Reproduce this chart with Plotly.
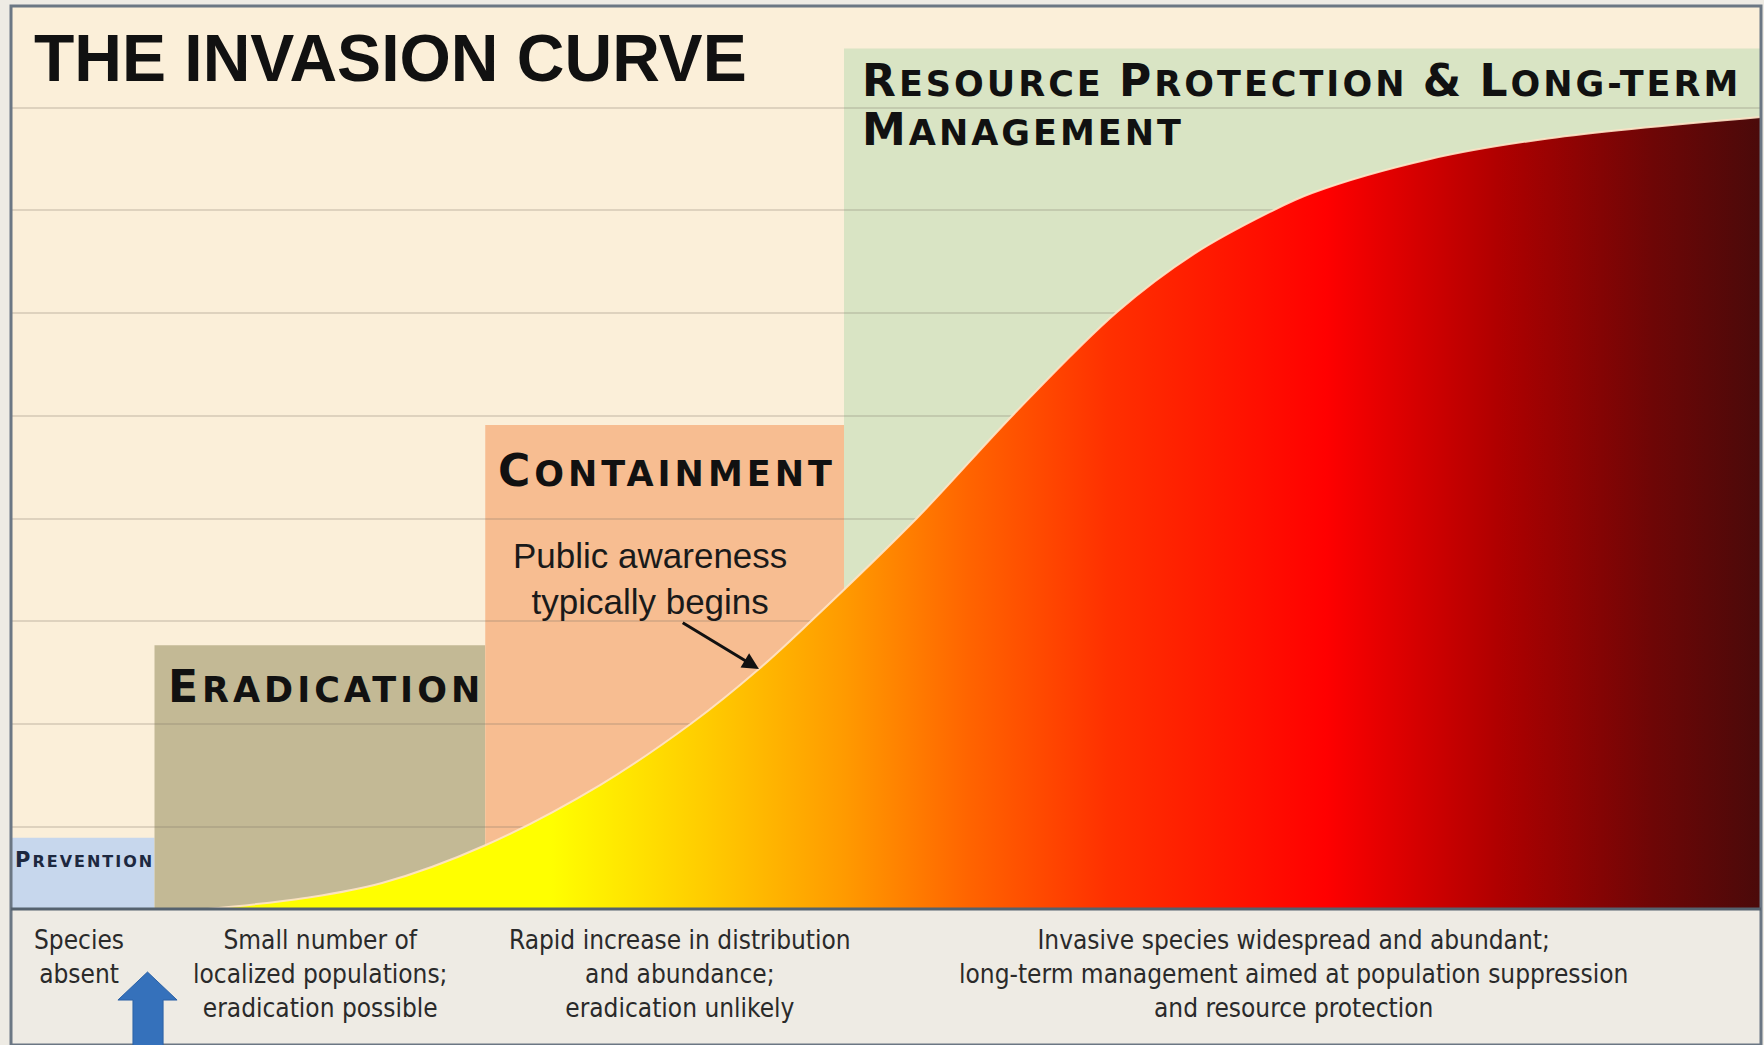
import plotly.graph_objects as go

# ---------------- data ----------------
# invasion curve (time 0-100, extent 0-100)
time_x = [11.26, 16.8, 21.2, 27.14, 33.66, 38.91, 42.74, 45.66, 51.83, 57.31, 63.2, 67.6, 71.83, 74.34, 81.09, 87.83, 100.0]
extent_y = [0.0, 1.22, 2.88, 7.09, 13.73, 20.6, 26.58, 31.78, 43.41, 54.82, 66.11, 72.54, 77.08, 79.29, 83.06, 85.33, 87.71]

# management phases (boxes)
phase_names = ["Prevention", "Eradication", "Containment", "Resource Protection & Long-term Management"]
phase_start = [0.0, 8.2, 27.1, 47.6]
phase_end = [8.2, 27.1, 47.6, 100.0]
phase_height = [7.9, 29.2, 53.6, 95.3]
phase_colors = ["#c7d7ed", "#c3b995", "#f7bd91", "#d9e4c4"]

# stage descriptions (bottom band)
stage_text = [
    "Species<br>absent",
    "Small number of<br>localized populations;<br>eradication possible",
    "Rapid increase in distribution<br>and abundance;<br>eradication unlikely",
    "Invasive species widespread and abundant;<br>long-term management aimed at population suppression<br>and resource protection",
]
stage_center = [3.9, 17.7, 38.2, 73.3]

awareness_index = 6  # curve point where public awareness typically begins

# ---------------- figure ----------------
fig = go.Figure()

grad = [
    [0.0, "#ffff00"], [0.22, "#ffff00"], [0.32, "#ffcc00"], [0.41, "#ff9a00"],
    [0.49, "#ff6400"], [0.58, "#ff3000"], [0.72, "#ff0000"], [0.83, "#b00000"],
    [0.93, "#6e0606"], [1.0, "#4a0a0a"],
]
fig.add_trace(go.Scatter(
    x=time_x, y=extent_y, mode="lines",
    line=dict(shape="spline", smoothing=1.0, color="rgba(255,228,200,0.9)", width=2),
    fill="tozeroy",
    fillgradient=dict(type="horizontal", colorscale=grad, start=time_x[0], stop=time_x[-1]),
    hoverinfo="skip", showlegend=False,
))

shapes = []
for s, e, h, c in zip(phase_start, phase_end, phase_height, phase_colors):
    shapes.append(dict(type="rect", xref="x", yref="y", x0=s, x1=e, y0=0, y1=h,
                       fillcolor=c, line=dict(width=0), layer="below"))

# frame lines
frame = "#6b7784"
shapes.append(dict(type="rect", xref="paper", yref="paper", x0=0, x1=1, y0=-0.1506, y1=1,
                   line=dict(color=frame, width=3), fillcolor="rgba(0,0,0,0)", layer="above"))
shapes.append(dict(type="line", xref="paper", yref="paper", x0=0, x1=1, y0=0, y1=0,
                   line=dict(color="#55626f", width=3), layer="above"))
# blue arrow in bottom band
shapes.append(dict(type="path", xref="paper", yref="paper",
                   path="M 0.078 -0.0698 L 0.0949 -0.1008 L 0.0869 -0.1008 L 0.0869 -0.152 "
                        "L 0.0697 -0.152 L 0.0697 -0.1008 L 0.0611 -0.1008 Z",
                   fillcolor="#3571bb", line=dict(color="#2c62a6", width=1), layer="above"))

ann = []
# title
ann.append(dict(text="<b>THE INVASION CURVE</b>", xref="x", yref="y", x=1.2, y=94.2,
                xanchor="left", yanchor="middle", showarrow=False,
                font=dict(family="Liberation Sans, Arial, sans-serif", size=66, color="#111111")))


def smallcaps(words, small, ls):
    parts = []
    for w in words:
        if w[0].isalpha():
            parts.append(f"<span style='letter-spacing:{ls}px'>{w[0]}</span>"
                         f"<span style='font-size:{small}px;letter-spacing:{ls}px'>{w[1:].upper()}</span>")
        else:
            parts.append(f"<span style='letter-spacing:{ls}px'>{w}</span>")
    return "<b>" + " ".join(parts) + "</b>"


head_font = "DejaVu Sans, Verdana, sans-serif"
ann.append(dict(text=smallcaps(["Prevention"], 16, 2), xref="x", yref="y",
                x=0.11, y=5.4, xanchor="left", yanchor="middle", showarrow=False,
                font=dict(family=head_font, size=21, color="#1d2840")))
ann.append(dict(text=smallcaps(["Eradication"], 35, 4), xref="x", yref="y",
                x=8.86, y=24.6, xanchor="left", yanchor="middle", showarrow=False,
                font=dict(family=head_font, size=44, color="#111111")))
ann.append(dict(text=smallcaps(["Containment"], 35, 4), xref="x", yref="y",
                x=27.7, y=48.6, xanchor="left", yanchor="middle", showarrow=False,
                font=dict(family=head_font, size=44, color="#111111")))
ann.append(dict(text=smallcaps(["Resource", "Protection", "&", "Long-term"], 35, 3),
                xref="x", yref="y", x=48.5, y=91.8, xanchor="left", yanchor="middle", showarrow=False,
                font=dict(family=head_font, size=44, color="#111111")))
ann.append(dict(text=smallcaps(["Management"], 35, 3),
                xref="x", yref="y", x=48.5, y=86.3, xanchor="left", yanchor="middle", showarrow=False,
                font=dict(family=head_font, size=44, color="#111111")))

# public awareness
ann.append(dict(text="Public awareness<br>typically begins", xref="x", yref="y", x=36.5, y=36.6,
                xanchor="center", yanchor="middle", showarrow=False,
                font=dict(family="Liberation Sans, Arial, sans-serif", size=35, color="#1a1a1a")))
ann.append(dict(text="", xref="x", yref="y", x=time_x[awareness_index], y=extent_y[awareness_index],
                axref="x", ayref="y", ax=38.3, ay=31.8, showarrow=True, arrowhead=2,
                arrowsize=1.1, arrowwidth=3, arrowcolor="#111111"))

# bottom stage descriptions
for t, cx in zip(stage_text, stage_center):
    ann.append(dict(text=t, xref="x", yref="paper", x=cx, y=-0.0155, xanchor="center", yanchor="top",
                    showarrow=False, align="center",
                    font=dict(family="DejaVu Sans Condensed, Liberation Sans Narrow, Liberation Sans, sans-serif",
                              size=26, color="#2a2a2a")))

fig.update_layout(
    width=1764, height=1045,
    margin=dict(l=11, r=3, t=6, b=136),
    paper_bgcolor="#eeebe4",
    plot_bgcolor="#fbefd9",
    shapes=shapes, annotations=ann,
    xaxis=dict(range=[0, 100], showgrid=False, zeroline=False, showticklabels=False, ticks="",
               fixedrange=True),
    yaxis=dict(range=[0, 100], showgrid=True, gridcolor="rgba(120,110,95,0.22)", gridwidth=2,
               tick0=9.08, dtick=11.38, zeroline=False, showticklabels=False, ticks="", fixedrange=True),
    showlegend=False,
)

fig.write_html("out.html", config={"displayModeBar": False},
               post_script="document.body.style.margin='0px';")
